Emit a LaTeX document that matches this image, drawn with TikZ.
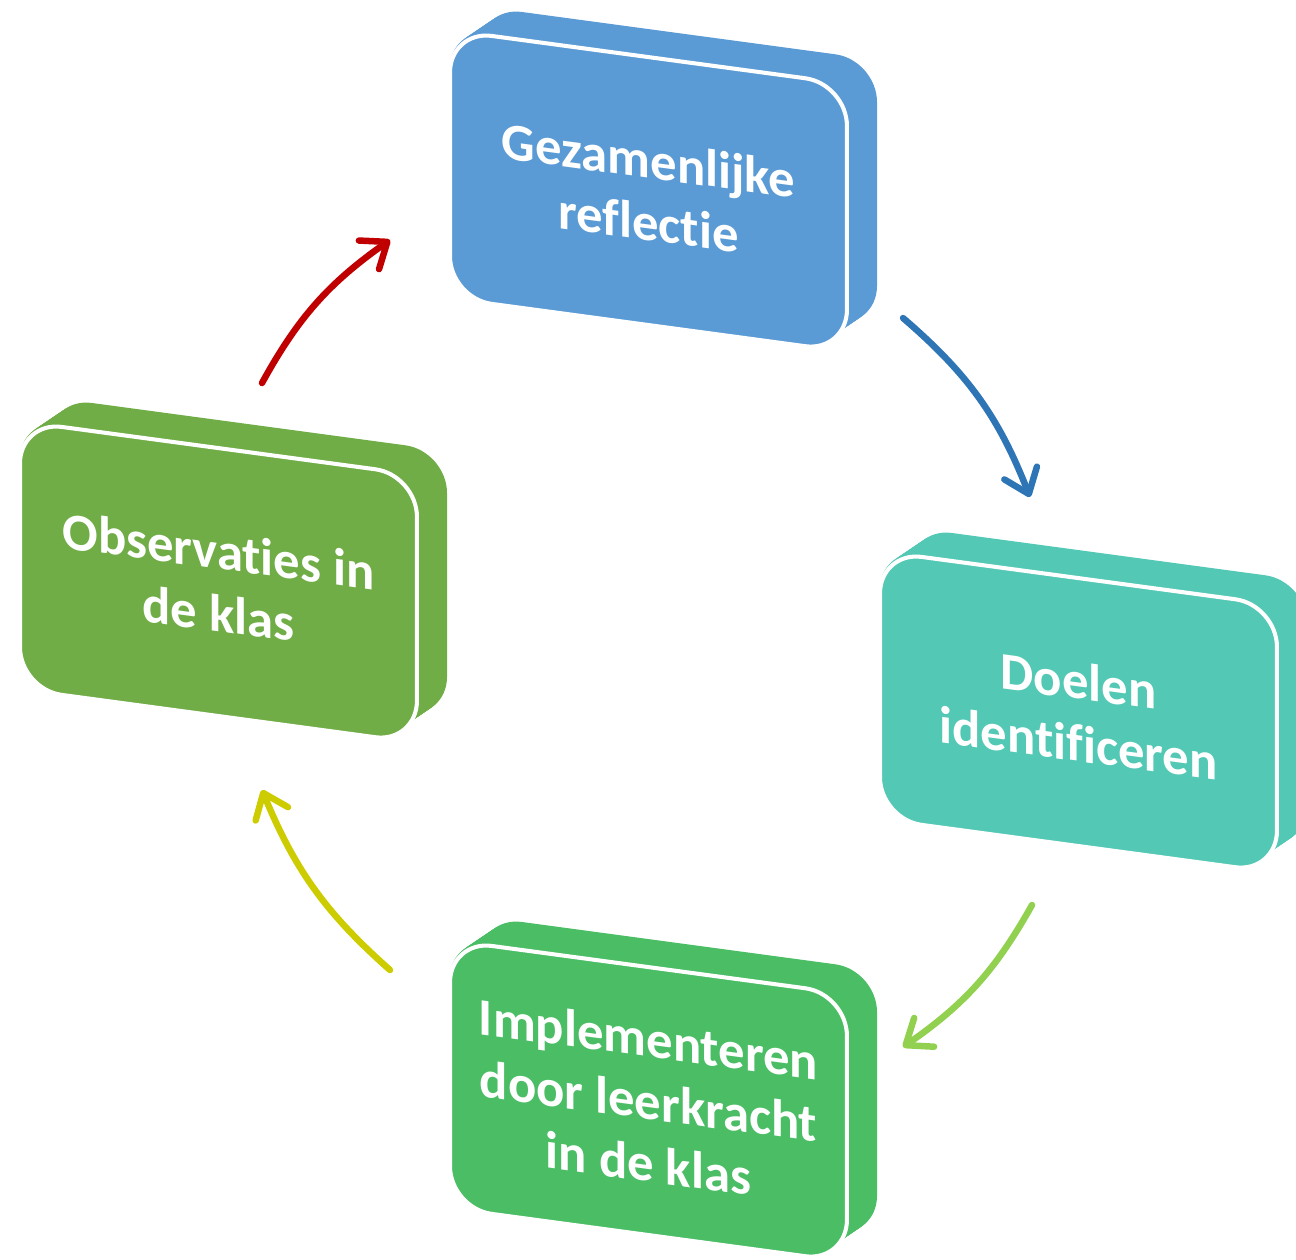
\documentclass[tikz,border=0pt]{standalone}
\usepackage{fontspec}
\setmainfont{Carlito}[Ligatures={NoCommon,NoContextual}]
\usetikzlibrary{arrows.meta}
\definecolor{cblue}{HTML}{5B9BD5}
\definecolor{cteal}{HTML}{53C8B5}
\definecolor{cgreen}{HTML}{4ABD65}
\definecolor{colive}{HTML}{70AD47}
\definecolor{ared}{HTML}{C00000}
\definecolor{ablue}{HTML}{2E75B6}
\definecolor{agreen}{HTML}{92D050}
\definecolor{ayellow}{HTML}{CCCC00}
\tikzset{
  boxface/.style={draw=white, line width=2.3pt, rounded corners=0.84cm,
    minimum width=7.94cm, minimum height=5.36cm, anchor=north west,
    transform shape, inner sep=0pt, text=white,
    font=\bfseries\fontsize{30}{35.5}\selectfont, align=center},
  boxback/.style={rounded corners=0.84cm},
  cyc/.style={line width=3.7pt, line cap=round,
    -{Straight Barb[length=0.45cm,width=0.7cm,round]}},
}
\begin{document}
\begin{tikzpicture}[x=0.02cm,y=0.02cm]
\useasboundingbox (0,0) rectangle (1296,-1259);
\clip (0,0) rectangle (1296,-1259);
% top box
\begin{scope}[shift={(448,-28)}, yslant=-0.135]
  \foreach \t in {1,...,20} \fill[cblue, boxback] ({\t*1.6},{\t*1.3}) rectangle ++(397,-268);
  \node[boxface, fill=cblue] (refl) at (0,0) {Gezamenlijke\\reflectie};
\end{scope}
% right box
\begin{scope}[shift={(878,-549)}, yslant=-0.135]
  \foreach \t in {1,...,20} \fill[cteal, boxback] ({\t*1.6},{\t*1.3}) rectangle ++(397,-268);
  \node[boxface, fill=cteal] (doel) at (0,0) {Doelen\\identificeren};
\end{scope}
% left box
\begin{scope}[shift={(18,-419)}, yslant=-0.135]
  \foreach \t in {1,...,20} \fill[colive, boxback] ({\t*1.6},{\t*1.3}) rectangle ++(397,-268);
  \node[boxface, fill=colive] (obs) at (0,0) {Observaties in\\de klas};
\end{scope}
% bottom box
\begin{scope}[shift={(448,-938)}, yslant=-0.135]
  \foreach \t in {1,...,20} \fill[cgreen, boxback] ({\t*1.6},{\t*1.3}) rectangle ++(397,-268);
  \node[boxface, fill=cgreen] (impl) at (0,0) {Implementeren\\door leerkracht\\in de klas};
\end{scope}
% arrows
\coordinate (r1) at (262,-383); \coordinate (r2) at (390,-240);
\coordinate (b1) at (903,-318); \coordinate (b2) at (1030,-497);
\coordinate (g1) at (1032,-905); \coordinate (g2) at (903,-1047);
\coordinate (y1) at (390,-970); \coordinate (y2) at (262,-790);
\draw[cyc, ared] (r1) to[bend left=13] (r2);
\draw[cyc, ablue] (b1) to[bend left=14] (b2);
\draw[cyc, agreen] (g1) to[bend left=13] (g2);
\draw[cyc, ayellow] (y1) to[bend left=13] (y2);
\end{tikzpicture}
\end{document}
